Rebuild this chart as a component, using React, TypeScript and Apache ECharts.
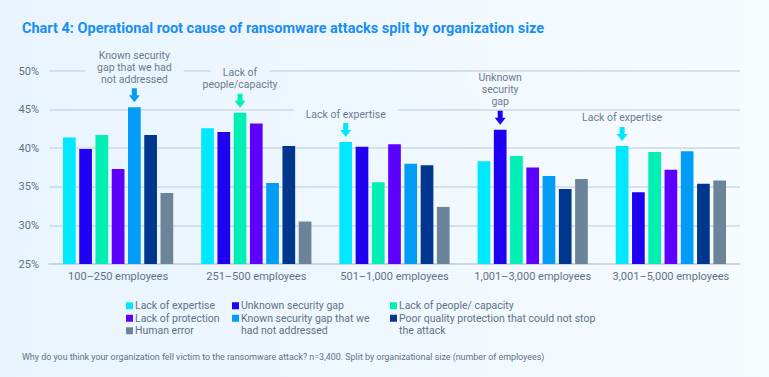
import React, { useEffect, useRef } from "react";
import * as echarts from "echarts";

const categories = [
  "100–250 employees",
  "251–500 employees",
  "501–1,000 employees",
  "1,001–3,000 employees",
  "3,001–5,000 employees",
];

const seriesNames = [
  "Lack of expertise",
  "Unknown security gap",
  "Lack of people/ capacity",
  "Lack of protection",
  "Known security gap that we had not addressed",
  "Poor quality protection that could not stop the attack",
  "Human error",
];

// legend texts wrapped over two lines: first line in the legend, rest below it
const legendWraps: Record<string, [string, string]> = {
  "Known security gap that we had not addressed": ["Known security gap that we", "had not addressed"],
  "Poor quality protection that could not stop the attack": [
    "Poor quality protection that could not stop",
    "the attack",
  ],
};

const lackOfExpertise = [41.4, 42.6, 40.8, 38.3, 40.3];
const unknownSecurityGap = [39.9, 42.1, 40.2, 42.4, 34.3];
const lackOfPeople = [41.7, 44.6, 35.6, 39.0, 39.5];
const lackOfProtection = [37.3, 43.2, 40.5, 37.5, 37.2];
const knownSecurityGap = [45.3, 35.5, 38.0, 36.4, 39.6];
const poorQualityProtection = [41.7, 40.3, 37.8, 34.7, 35.4];
const humanError = [34.2, 30.5, 32.4, 36.0, 35.8];

const seriesValues = [
  lackOfExpertise,
  unknownSecurityGap,
  lackOfPeople,
  lackOfProtection,
  knownSecurityGap,
  poorQualityProtection,
  humanError,
];

const colors = ["#00e8ff", "#2000f2", "#00efb4", "#5c00ff", "#009cf6", "#00378e", "#6b8499"];

const yMin = 25;
const yMax = 50;
const yStep = 5;

const callouts = [
  { series: 4, category: 0, lines: ["Known security", "gap that we had", "not addressed"] },
  { series: 2, category: 1, lines: ["Lack of", "people/capacity"] },
  { series: 0, category: 2, lines: ["Lack of expertise"] },
  { series: 1, category: 3, lines: ["Unknown", "security", "gap"] },
  { series: 0, category: 4, lines: ["Lack of expertise"] },
];

const legendColumns = [
  { left: 126, names: [seriesNames[0], seriesNames[3], seriesNames[6]] },
  { left: 232, names: [seriesNames[1], seriesNames[4]] },
  { left: 390, names: [seriesNames[2], seriesNames[5]] },
];

const FONT = "Roboto, 'Noto Sans', sans-serif";
const GRAY = "#5f7086";
const BG_FROM = [0xe9, 0xf4, 0xfe];
const BG_TO = [0xf6, 0xfb, 0xff];
const W = 769;
const GRID_LEFT = 49;
const GRID_RIGHT = 29;
const LEGEND_TOP = 300;
const LEGEND_ROW = 12.5;
const LEGEND_TEXT_SHIFT = 9;

function bgAt(frac: number) {
  const c = BG_FROM.map((a, i) => Math.round(a + (BG_TO[i] - a) * frac));
  return `rgb(${c[0]},${c[1]},${c[2]})`;
}

export default function App() {
  const ref = useRef<HTMLDivElement>(null);

  useEffect(() => {
    document.body.style.margin = "0";
    if (!ref.current) return;
    const chart = echarts.init(ref.current, undefined, { renderer: "svg" });
    const plotW = W - GRID_LEFT - GRID_RIGHT;
    const band = plotW / categories.length;

    const series = seriesNames.map((name, si) => {
      const marks = callouts
        .filter((c) => c.series === si)
        .map((c) => ({
          coord: [categories[c.category], seriesValues[si][c.category]],
          label: {
            show: true,
            position: "top",
            distance: 3,
            formatter: c.lines.map((l) => `{a|${l}}`).join("\n"),
            rich: {
              a: {
                fontFamily: FONT,
                fontSize: 10.5,
                lineHeight: 12,
                color: "#6b7b8e",
                backgroundColor: bgAt((GRID_LEFT + (c.category + 0.5) * band) / W),
                padding: [0, 12],
                align: "center",
              },
            },
          },
        }));
      return {
        name,
        type: "bar",
        data: seriesValues[si],
        barWidth: 12.7,
        barGap: "28%",
        itemStyle: { color: colors[si] },
        emphasis: { disabled: true },
        markPoint: marks.length
          ? {
              silent: true,
              symbol: "path://M3,0L8,0L8,7L11,7L5.5,14L0,7L3,7Z",
              symbolSize: [11, 14],
              symbolOffset: [0, -12],
              itemStyle: { color: colors[si] },
              data: marks,
            }
          : undefined,
      };
    });

    // continuation lines of wrapped legend entries
    const legendContinuations: any[] = [];
    legendColumns.forEach((col) => {
      col.names.forEach((n, row) => {
        const wrap = legendWraps[n];
        if (!wrap) return;
        legendContinuations.push({
          type: "text",
          left: col.left + LEGEND_TEXT_SHIFT,
          top: LEGEND_TOP + (row + 1) * LEGEND_ROW - 0.5,
          style: {
            text: wrap[1],
            fontFamily: FONT,
            fontSize: 10.5,
            fill: GRAY,
          },
        });
      });
    });

    const option: any = {
      animation: false,
      backgroundColor: "transparent",
      title: {
        text: "Chart 4: Operational root cause of ransomware attacks split by organization size",
        left: 22,
        top: 21,
        padding: 0,
        textStyle: {
          fontFamily: FONT,
          fontSize: 14.5,
          fontWeight: "bold",
          color: "#1a8ef2",
        },
      },
      graphic: [
        {
          type: "text",
          left: 22,
          top: 352,
          style: {
            text: "Why do you think your organization fell victim to the ransomware attack? n=3,400. Split by organizational size (number of employees)",
            fontFamily: FONT,
            fontSize: 8.9,
            fill: GRAY,
          },
        },
        ...legendContinuations,
      ],
      legend: legendColumns.map((col) => ({
        orient: "vertical",
        left: col.left,
        top: LEGEND_TOP,
        padding: 0,
        itemGap: LEGEND_ROW - 11.5,
        itemWidth: 7,
        itemHeight: 7,
        icon: "rect",
        selectedMode: false,
        data: col.names,
        formatter: (n: string) => (legendWraps[n] ? legendWraps[n][0] : n),
        textStyle: {
          fontFamily: FONT,
          fontSize: 10.5,
          lineHeight: 11.5,
          color: GRAY,
          padding: [0, 0, 0, -3],
        },
      })),
      grid: { left: GRID_LEFT, right: GRID_RIGHT, top: 71, bottom: 113, containLabel: false },
      xAxis: {
        type: "category",
        data: categories,
        axisTick: { show: false },
        axisLine: { lineStyle: { color: "#c3d2e0", width: 1.5 } },
        axisLabel: {
          interval: 0,
          margin: 7,
          fontFamily: FONT,
          fontSize: 11,
          color: GRAY,
        },
      },
      yAxis: {
        type: "value",
        min: yMin,
        max: yMax,
        interval: yStep,
        axisLine: { show: false },
        axisTick: { show: false },
        axisLabel: {
          margin: 10,
          fontFamily: FONT,
          fontSize: 11,
          color: GRAY,
          formatter: (v: number) => `${v}%`,
        },
        splitLine: { lineStyle: { color: "#cbd8e5", width: 1.5 } },
      },
      series,
    };

    chart.setOption(option);
    return () => chart.dispose();
  }, []);

  return (
    <div
      style={{
        width: W,
        height: 377,
        background: "linear-gradient(90deg, #e9f4fe 0%, #f6fbff 100%)",
      }}
    >
      <div ref={ref} style={{ width: W, height: 377 }} />
    </div>
  );
}
